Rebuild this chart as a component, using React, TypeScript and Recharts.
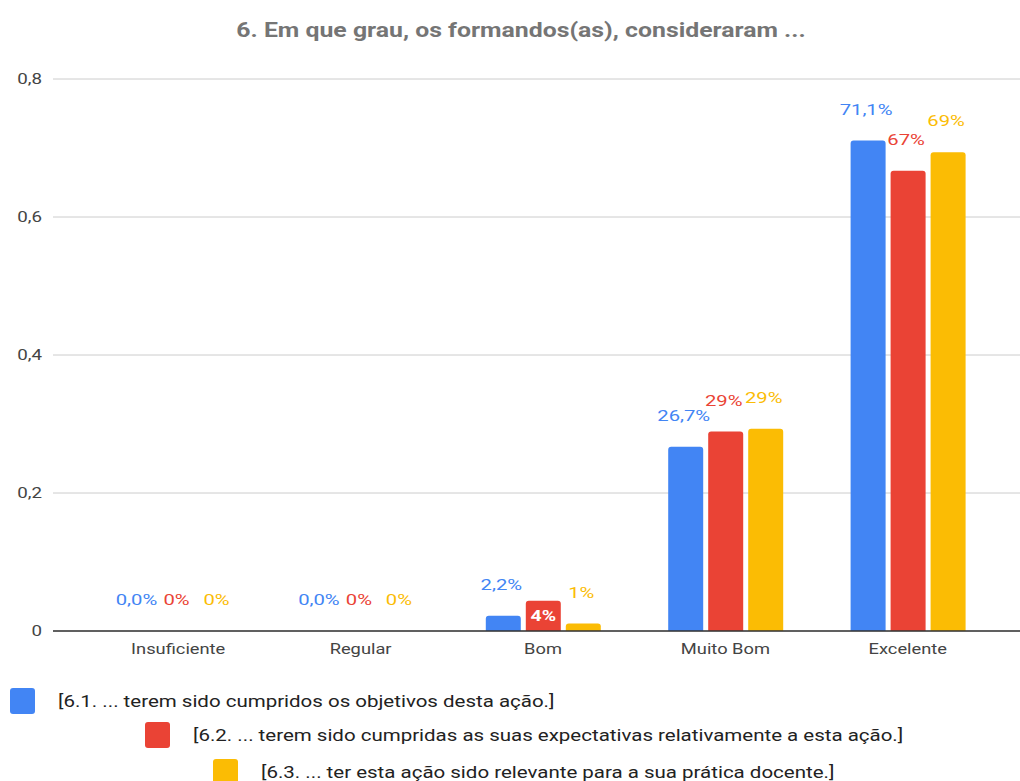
import React from "react";
import { BarChart, Bar, XAxis, YAxis, CartesianGrid, LabelList } from "recharts";

const categories = ["Insuficiente", "Regular", "Bom", "Muito Bom", "Excelente"];
const objetivos = [0, 0, 0.022, 0.267, 0.711];
const expectativas = [0, 0, 0.044, 0.289, 0.667];
const relevante = [0, 0, 0.011, 0.293, 0.694];
const yTicks = [0, 0.2, 0.4, 0.6, 0.8];

const seriesNames = [
  "[6.1. ... terem sido cumpridos os objetivos desta ação.]",
  "[6.2. ... terem sido cumpridas as suas expectativas relativamente a esta ação.]",
  "[6.3. ... ter esta ação sido relevante para a sua prática docente.]",
];
const seriesColors = ["#4285F4", "#EA4335", "#FBBC04"];
const redInsideLabelCategories = ["Bom"];

const data = categories.map((c, i) => ({
  name: c,
  s1: objetivos[i],
  s2: expectativas[i],
  s3: relevante[i],
}));

const FONT = "Roboto, 'Noto Sans', Arial, sans-serif";

const fmtDecimal = (v: number) => (v * 100).toFixed(1).replace(".", ",") + "%";
const fmtInt = (v: number) => Math.round(v * 100) + "%";

const ScaledText = ({ x, y, sx, children, ...rest }: any) => (
  <text x={0} y={0} transform={`translate(${x},${y}) scale(${sx},1)`} {...rest}>
    {children}
  </text>
);

const makeLabel = (key: string, color: string, fmt: (v: number) => string, inside: string[]) => (props: any) => {
  const { x, y, width, height, value } = props;
  const entry = value && typeof value === "object" ? value : null;
  const v = entry ? entry[key] : Number(value);
  const cat = entry ? entry.name : "";
  const cx = Number(x) + Number(width) / 2;
  if (inside.includes(cat)) {
    return (
      <ScaledText x={cx} y={Number(y) + Number(height) / 2} sx={1.3} dy="0.35em" textAnchor="middle"
        fill="#ffffff" fontWeight="bold" fontSize={15} fontFamily={FONT}>
        {fmt(v)}
      </ScaledText>
    );
  }
  return (
    <ScaledText x={cx - 2} y={Number(y) - 31} sx={1.35} dy="0.35em" textAnchor="middle" fill={color} fontSize={15} fontFamily={FONT}>
      {fmt(v)}
    </ScaledText>
  );
};

const XTick = (props: any) => {
  const { x, y, payload } = props;
  return (
    <ScaledText x={x} y={y} sx={1.22} dy="0.71em" textAnchor="middle" fill="#444" fontSize={15} fontFamily={FONT}>
      {payload.value}
    </ScaledText>
  );
};

const YTick = (props: any) => {
  const { x, y, payload } = props;
  const v = Number(payload.value);
  return (
    <ScaledText x={x} y={y} sx={1.25} dy="0.35em" textAnchor="end" fill="#444" fontSize={15} fontFamily={FONT}>
      {v === 0 ? "0" : String(v).replace(".", ",")}
    </ScaledText>
  );
};

const legendOffsets = [10, 145, 213];
const legendTops = [688, 722, 759];

export default function App() {
  return (
    <div style={{ position: "absolute", left: 0, top: 0, width: 1020, height: 781, background: "#fff", overflow: "hidden" }}>
      <div style={{ position: "absolute", left: 521, top: 17, transform: "translateX(-50%) scaleX(1.24)", whiteSpace: "nowrap", fontFamily: FONT, fontWeight: "bold", fontSize: 20, color: "#757575", lineHeight: "26px" }}>
        6. Em que grau, os formandos(as), consideraram ...
      </div>
      <BarChart width={1020} height={781} data={data} margin={{ top: 79, right: 0, bottom: 120, left: 0 }} barSize={35} barGap={5}>
        <CartesianGrid vertical={false} stroke="#cccccc" />
        <XAxis dataKey="name" height={30} padding={{ left: 34, right: 21 }} tickLine={false} axisLine={{ stroke: "#333", strokeWidth: 1.5 }}
          tick={<XTick />} tickMargin={6} interval={0} />
        <YAxis width={53} domain={[0, 0.8]} ticks={yTicks} tickLine={false} axisLine={false} tickMargin={5} tick={<YTick />} />
        <Bar dataKey="s1" fill={seriesColors[0]} radius={[3, 3, 0, 0]} minPointSize={0.01} isAnimationActive={false}>
          <LabelList dataKey={(d: any) => d} content={makeLabel("s1", seriesColors[0], fmtDecimal, [])} />
        </Bar>
        <Bar dataKey="s2" fill={seriesColors[1]} radius={[3, 3, 0, 0]} minPointSize={0.01} isAnimationActive={false}>
          <LabelList dataKey={(d: any) => d} content={makeLabel("s2", seriesColors[1], fmtInt, redInsideLabelCategories)} />
        </Bar>
        <Bar dataKey="s3" fill={seriesColors[2]} radius={[3, 3, 0, 0]} minPointSize={0.01} isAnimationActive={false}>
          <LabelList dataKey={(d: any) => d} content={makeLabel("s3", seriesColors[2], fmtInt, [])} />
        </Bar>
      </BarChart>
      {seriesNames.map((n, i) => (
        <div key={n} style={{ position: "absolute", left: legendOffsets[i], top: legendTops[i], display: "flex", alignItems: "center", height: 26 }}>
          <div style={{ width: 25, height: 26, background: seriesColors[i], borderRadius: 3, flex: "none" }} />
          <span style={{ marginLeft: 23, fontFamily: FONT, fontSize: 16, color: "#222", whiteSpace: "nowrap", transform: "scaleX(1.28)", transformOrigin: "left center", display: "inline-block" }}>{n}</span>
        </div>
      ))}
    </div>
  );
}
